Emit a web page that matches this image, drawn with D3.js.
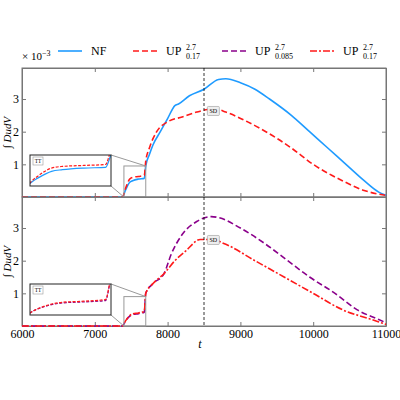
<!DOCTYPE html>
<html><head><meta charset="utf-8">
<script src="https://cdn.jsdelivr.net/npm/d3@7"></script>
<style>body{margin:0;background:#fff}svg text{font-family:"Liberation Serif","DejaVu Serif",serif !important}</style>
</head><body><svg id="chart" width="400" height="400"></svg>
<script>
// data
var tNF = [6000,7380,7420,7480,7520,7600,7680,7700,7750,7800,7900,8000,8100,8150,8300,8500,8700,8800,9000,9200,9400,9700,9950,10200,10450,10700,10900,11000];
var vNF = [0,0,0.2,0.45,0.5,0.55,0.57,0.95,1.3,1.6,2.0,2.4,2.8,2.85,3.1,3.3,3.6,3.62,3.5,3.3,3.0,2.5,2.0,1.5,1.0,0.5,0.15,0.05];
var tUPa = [6000,7380,7420,7480,7520,7600,7680,7700,7750,7850,8000,8200,8400,8550,8650,8800,9100,9350,9700,10000,10400,10700,11000];
var vUPa = [0,0,0.25,0.55,0.6,0.63,0.66,1.1,1.5,2.0,2.3,2.45,2.6,2.68,2.7,2.6,2.3,2.0,1.5,1.0,0.5,0.2,0.05];
var tUPb = [6000,7380,7420,7480,7520,7600,7680,7700,7800,7950,8050,8200,8400,8600,8700,9000,9350,9650,9950,10300,10600,10900,11000];
var vUPb = [0,0,0.15,0.3,0.35,0.38,0.42,1.0,1.3,1.6,2.2,2.8,3.2,3.35,3.32,3.0,2.5,2.0,1.5,1.0,0.5,0.2,0.1];
var tUPc = [6000,7380,7420,7480,7520,7600,7680,7700,7800,7950,8100,8250,8450,8600,8800,9200,9600,10000,10400,10800,11000];
var vUPc = [0,0,0.15,0.32,0.37,0.4,0.45,1.0,1.3,1.6,2.0,2.3,2.65,2.65,2.5,2.0,1.5,1.0,0.5,0.2,0.05];
var yTicks = [1,2,3];
var xTicks = [6000,7000,8000,9000,10000,11000];

var svg = d3.select("#chart");
var x = d3.scaleLinear().domain([6000,11000]).range([22,386]);
var panels = [
  {top:68, bottom:197, series:[[tNF,vNF,"#1f9bff",""],[tUPa,vUPa,"#ff1a1a","6,3"]]},
  {top:197, bottom:326, series:[[tUPb,vUPb,"#8b008b","6,3"],[tUPc,vUPc,"#ff1a1a","7,2,2,2"]]}
];
function pts(t,v){ return t.map((d,i)=>[d,v[i]]); }

panels.forEach(function(p, pi){
  var y = d3.scaleLinear().domain([0,3.95]).range([p.bottom,p.top]);
  var g = svg.append("g");
  var line = d3.line().curve(d3.curveMonotoneX).x(d=>x(d[0])).y(d=>y(d[1]));
  // axes with inward ticks
  g.append("g").attr("transform",`translate(0,${p.bottom})`)
    .call(d3.axisBottom(x).tickValues(xTicks).tickSizeInner(-4).tickSizeOuter(0).tickFormat(pi==1?d3.format("d"):""));
  g.append("g").attr("transform",`translate(0,${p.top})`)
    .call(d3.axisTop(x).tickValues(xTicks).tickSizeInner(-4).tickSizeOuter(0).tickFormat(""));
  g.append("g").attr("transform",`translate(22,0)`)
    .call(d3.axisLeft(y).tickValues(yTicks).tickSizeInner(-4).tickSizeOuter(0).tickFormat(d3.format("d")));
  g.append("g").attr("transform",`translate(386,0)`)
    .call(d3.axisRight(y).tickValues(yTicks).tickSizeInner(-4).tickSizeOuter(0).tickFormat(""));
  g.selectAll("g").attr("font-family",null);
  g.selectAll(".domain").attr("stroke","#777");
  g.selectAll(".tick line").attr("stroke","#777");
  g.selectAll(".tick text").attr("font-size",12).attr("fill","#000");
  g.append("rect").attr("x",22).attr("y",p.top).attr("width",364).attr("height",p.bottom-p.top)
    .attr("fill","none").attr("stroke","#777");
  p.series.forEach(function(s){
    g.append("path").attr("d",line(pts(s[0],s[1]))).attr("fill","none")
      .attr("stroke",s[2]).attr("stroke-width",1.6).attr("stroke-dasharray",s[3]);
  });
  // vertical marker
  g.append("line").attr("x1",x(8500)).attr("x2",x(8500)).attr("y1",p.top).attr("y2",p.bottom)
    .attr("stroke","#000").attr("stroke-width",0.8).attr("stroke-dasharray","3,2");
  var sy = y(2.68)+2;
  g.append("rect").attr("x",x(8560)-1).attr("y",sy-5).attr("width",12).attr("height",9)
    .attr("fill","#eee").attr("stroke","#999").attr("stroke-width",0.6).attr("rx",1);
  g.append("text").attr("x",x(8560)+5).attr("y",sy+2).attr("text-anchor","middle")
    .attr("font-size",6).text("SD");
  g.append("text").attr("transform",`translate(11,${(p.top+p.bottom)/2}) rotate(-90)`)
    .attr("text-anchor","middle").attr("font-size",11).attr("font-style","italic").text("∫ DudV");

  // zoom rectangle and inset
  var zx0=7400, zx1=7700, zy1=(pi==0?0.95:0.9);
  var rx0=x(zx0), rx1=x(zx1), ry0=y(zy1), ry1=y(0);
  g.append("rect").attr("x",rx0).attr("y",ry0).attr("width",rx1-rx0).attr("height",ry1-ry0)
    .attr("fill","none").attr("stroke","#999");
  var ix0=30, ix1=111, iy0=p.bottom-42, iy1=p.bottom-11;
  g.append("line").attr("x1",ix1).attr("y1",iy0).attr("x2",rx1).attr("y2",ry0).attr("stroke","#999");
  g.append("line").attr("x1",ix1).attr("y1",iy1).attr("x2",rx0).attr("y2",ry1).attr("stroke","#999");
  var xi = d3.scaleLinear().domain([zx0,zx1]).range([ix0,ix1]);
  var yi = d3.scaleLinear().domain([0,zy1]).range([iy1,iy0]);
  var li = d3.line().curve(d3.curveMonotoneX).x(d=>xi(d[0])).y(d=>yi(d[1]));
  g.append("rect").attr("x",ix0).attr("y",iy0).attr("width",ix1-ix0).attr("height",iy1-iy0).attr("fill","#fff");
  var cid="clip"+pi;
  g.append("clipPath").attr("id",cid).append("rect").attr("x",ix0).attr("y",iy0).attr("width",ix1-ix0).attr("height",iy1-iy0);
  p.series.forEach(function(s){
    g.append("path").attr("clip-path",`url(#${cid})`).attr("d",li(pts(s[0],s[1]))).attr("fill","none")
      .attr("stroke",s[2]).attr("stroke-width",1.2).attr("stroke-dasharray",s[3]?"3,1.5":"");
  });
  g.append("rect").attr("x",ix0).attr("y",iy0).attr("width",ix1-ix0).attr("height",iy1-iy0)
    .attr("fill","none").attr("stroke","#222");
  g.append("rect").attr("x",ix0+3).attr("y",iy0+2).attr("width",10).attr("height",8)
    .attr("fill","#fff").attr("stroke","#999").attr("stroke-width",0.6);
  g.append("text").attr("x",ix0+8).attr("y",iy0+8).attr("text-anchor","middle").attr("font-size",5.5).text("TT");
});

svg.append("text").attr("x",200).attr("y",348).attr("text-anchor","middle")
  .attr("font-size",12).attr("font-style","italic").text("t");
svg.append("text").attr("x",22).attr("y",60).attr("font-size",11).html('× 10<tspan dy="-4" font-size="8">−3</tspan>');

// legend
var legendItems = [["NF","","#1f9bff",""],["UP","0.17","#ff1a1a","6,3"],["UP","0.085","#8b008b","6,3"],["UP","0.17","#ff1a1a","7,2,2,2"]];
var lx = [58,133,222,310];
legendItems.forEach(function(d,i){
  var g = svg.append("g").attr("transform",`translate(${lx[i]},55)`);
  g.append("line").attr("x1",0).attr("x2",24).attr("y1",-4).attr("y2",-4)
    .attr("stroke",d[2]).attr("stroke-width",1.6).attr("stroke-dasharray",d[3]);
  g.append("text").attr("x",33).attr("y",0).attr("font-size",12).text(d[0]);
  if(d[1]){
    var w = 20;
    g.append("text").attr("x",33+w).attr("y",-5).attr("font-size",8).text("2.7");
    g.append("text").attr("x",33+w).attr("y",4).attr("font-size",8).text(d[1]);
  }
});
</script></body></html>
